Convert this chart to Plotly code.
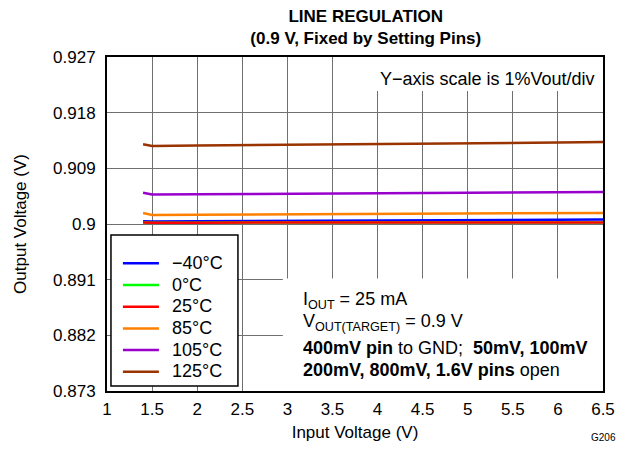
import plotly.graph_objects as go

vin = [1.4, 1.5, 2.0, 2.5, 3.0, 3.5, 4.0, 4.5, 5.0, 5.5, 6.0, 6.5]
v_m40 = [0.90045, 0.90040, 0.90043, 0.90046, 0.90049, 0.90052, 0.90055, 0.90058, 0.90061, 0.90064, 0.90068, 0.90072]
v_0 = [0.90026, 0.90022, 0.90022, 0.90022, 0.90023, 0.90023, 0.90023, 0.90023, 0.90024, 0.90024, 0.90024, 0.90024]
v_25 = [0.90026, 0.90022, 0.90022, 0.90022, 0.90023, 0.90023, 0.90023, 0.90023, 0.90024, 0.90024, 0.90024, 0.90024]
v_85 = [0.90177, 0.90147, 0.90150, 0.90153, 0.90156, 0.90159, 0.90162, 0.90165, 0.90168, 0.90171, 0.90175, 0.90179]
v_105 = [0.90505, 0.90478, 0.90481, 0.90484, 0.90487, 0.90490, 0.90494, 0.90498, 0.90502, 0.90506, 0.90511, 0.90516]
v_125 = [0.91290, 0.91263, 0.91268, 0.91273, 0.91279, 0.91285, 0.91290, 0.91297, 0.91303, 0.91310, 0.91318, 0.91327]

names = ["\u221240°C", "0°C", "25°C", "85°C", "105°C", "125°C"]
colors = ["#0000FF", "#00FF00", "#FF0000", "#FF8000", "#9900CC", "#993300"]
series = [v_m40, v_0, v_25, v_85, v_105, v_125]

x_ticks = [1, 1.5, 2, 2.5, 3, 3.5, 4, 4.5, 5, 5.5, 6, 6.5]
x_labels = ["1", "1.5", "2", "2.5", "3", "3.5", "4", "4.5", "5", "5.5", "6", "6.5"]
y_ticks = [0.873, 0.882, 0.891, 0.9, 0.909, 0.918, 0.927]
y_labels = ["0.873", "0.882", "0.891", "0.9", "0.909", "0.918", "0.927"]

FONT = "Liberation Sans, Arial, sans-serif"
GRID = "#707070"

fig = go.Figure()
for name, col, ys in zip(names, colors, series):
    fig.add_trace(go.Scatter(
        x=vin, y=ys, mode="lines",
        name="\u00a0\u00a0<span style='font-size:18px'>" + name + "</span>",
        line=dict(color=col, width=2.5)))

fig.update_layout(
    width=619, height=443,
    margin=dict(l=99, r=24, t=49, b=58),
    paper_bgcolor="white", plot_bgcolor="white",
    font=dict(family=FONT, size=17, color="black"),
    title=dict(text="<b>LINE REGULATION<br>(0.9 V, Fixed by Setting Pins)</b>",
               xref="container", x=0.578, xanchor="center",
               yref="container", y=0.968, yanchor="top",
               pad=dict(t=0, b=0, l=0, r=0),
               font=dict(size=17, family=FONT)),
    xaxis=dict(range=[1, 6.5], tickvals=x_ticks, ticktext=x_labels,
               showgrid=True, gridcolor=GRID, gridwidth=1,
               showline=True, mirror=True, linecolor="black", linewidth=2,
               ticks="", zeroline=False, ticklabelstandoff=2,
               tickfont=dict(size=17),
               title=dict(text="Input Voltage (V)", standoff=8, font=dict(size=17))),
    yaxis=dict(range=[0.873, 0.927], tickvals=y_ticks, ticktext=y_labels,
               showgrid=True, gridcolor=GRID, gridwidth=1,
               showline=True, mirror=True, linecolor="black", linewidth=2,
               ticks="", zeroline=False, ticklabelstandoff=6,
               tickfont=dict(size=17), automargin=False,
               title=dict(text="Output Voltage (V)", standoff=22, font=dict(size=17))),
    legend=dict(x=0.022, y=0.43, xanchor="left", yanchor="top",
                bgcolor="rgba(0,0,0,0)", borderwidth=0,
                font=dict(size=14.4, family=FONT),
                itemwidth=36, tracegroupgap=0),
    showlegend=True,
)

# white areas behind the text blocks (cover the grid)
fig.add_shape(type="rect", xref="x", yref="y", x0=2.95, x1=6.5, y0=0.873, y1=0.8912,
              fillcolor="white", line=dict(width=0), layer="between")
fig.add_shape(type="rect", xref="x", yref="y", x0=3.81, x1=6.5, y0=0.9215, y1=0.927,
              fillcolor="white", line=dict(width=0), layer="between")
# legend frame
fig.add_shape(type="rect", xref="x domain", yref="y domain", x0=0.008, x1=0.264,
              y0=0.0149, y1=0.467, fillcolor="white",
              line=dict(color="black", width=1.5), layer="above")

fig.add_annotation(xref="x domain", yref="y domain", x=0.988, y=0.935,
                   xanchor="right", yanchor="middle",
                   text="Y\u2212axis scale is 1%Vout/div", showarrow=False,
                   font=dict(size=18))
ann_lines = [
    "I<sub>OUT</sub> = 25 mA",
    "V<sub>OUT(TARGET)</sub> = 0.9 V",
    "<b>400mV pin</b> to GND;  <b>50mV, 100mV</b>",
    "<b>200mV, 800mV, 1.6V pins</b> open",
]
ann_y = [0.271, 0.205, 0.130, 0.064]
for t, yy in zip(ann_lines, ann_y):
    fig.add_annotation(xref="x domain", yref="y domain", x=0.392, y=yy,
                       xanchor="left", yanchor="middle",
                       text=t, showarrow=False, font=dict(size=18), align="left")
fig.add_annotation(xref="x domain", yref="y domain", x=1.03, y=-0.14,
                   xanchor="right", yanchor="middle",
                   text="G206", showarrow=False, font=dict(size=10))

fig.write_html("out.html")
